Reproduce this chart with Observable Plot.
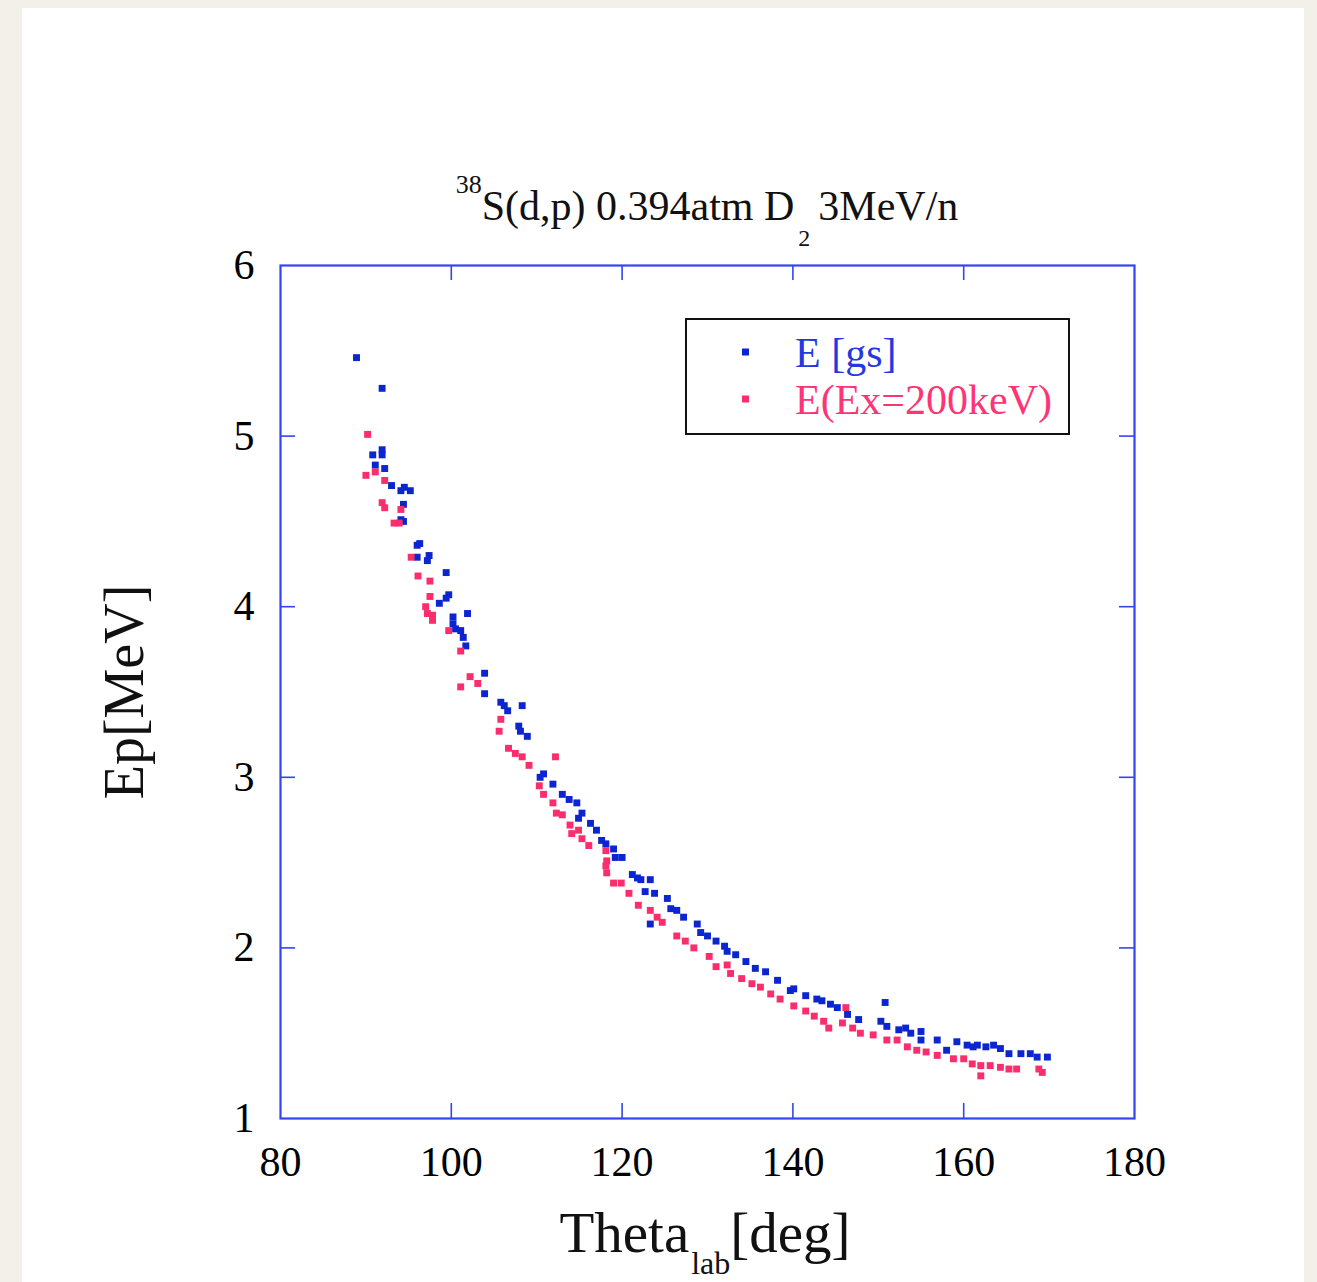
<!DOCTYPE html>
<html>
<head>
<meta charset="utf-8">
<script src="https://cdn.jsdelivr.net/npm/d3@7"></script>
<script src="https://cdn.jsdelivr.net/npm/@observablehq/plot@0.6"></script>
<style>
  html, body { margin: 0; padding: 0; }
  body { width: 1317px; height: 1282px; overflow: hidden; background: #f3f0ea; position: relative; }
  #card { position: absolute; left: 22px; top: 8px; width: 1282px; height: 1274px; background: #ffffff; }
  #overlay { position: absolute; left: 0; top: 0; pointer-events: none; }
</style>
</head>
<body>
<div id="card"></div>
<script>
// ---------------- data ----------------
const titleText = {sup: "38", main: "S(d,p) 0.394atm D", sub: "2", tail: "3MeV/n"};
const xLabel = {main: "Theta", sub: "lab", tail: "[deg]"};
const yLabel = "Ep[MeV]";
const seriesNames = ["E [gs]", "E(Ex=200keV)"];

const xTicks = [80, 100, 120, 140, 160, 180];
const yTicks = [1, 2, 3, 4, 5, 6];
const xInnerTicks = [100, 120, 140, 160];
const yInnerTicks = [2, 3, 4, 5];

// E [gs]
const gsTheta = [88.9, 91.9, 91.9, 91.9, 90.8, 91.1, 92.2, 93.0, 94.1, 94.5, 95.2, 94.4, 94.1, 94.4,
  96.3, 96.0, 96.0, 97.4, 97.2, 99.4, 99.7, 99.4, 98.6, 101.9, 100.2, 100.2, 100.5, 101.1, 101.4, 101.7,
  103.9, 103.9, 105.8, 106.2, 106.6, 108.3, 107.9, 108.1, 108.9, 110.8, 110.4, 111.9, 113.0, 113.8, 114.7,
  115.3, 114.9, 116.3, 117.0, 117.6, 118.1, 119.0, 119.2, 120.0, 121.2, 121.8, 123.3, 122.2, 122.7, 123.8,
  125.3, 125.7, 126.4, 127.2, 123.3, 128.8, 129.2, 130.0, 131.0, 132.0, 132.3, 133.3, 134.5, 135.6, 136.8,
  138.2, 139.7, 140.1, 141.5, 142.8, 143.4, 144.4, 145.2, 146.4, 147.7, 150.8, 150.3, 151.0, 152.4, 153.2,
  153.8, 155.0, 155.0, 156.9, 158.0, 159.2, 160.4, 161.1, 161.6, 162.6, 163.5, 164.3, 165.3, 166.7, 167.8,
  168.6, 169.8];
const gsEp = [5.46, 5.28, 4.92, 4.89, 4.89, 4.83, 4.81, 4.71, 4.68, 4.70, 4.68, 4.60, 4.51, 4.50,
  4.37, 4.36, 4.29, 4.30, 4.27, 4.20, 4.07, 4.05, 4.02, 3.96, 3.94, 3.90, 3.87, 3.86, 3.82, 3.77,
  3.61, 3.49, 3.44, 3.42, 3.39, 3.42, 3.30, 3.27, 3.24, 3.02, 3.00, 2.96, 2.90, 2.87, 2.85,
  2.79, 2.76, 2.73, 2.69, 2.63, 2.61, 2.58, 2.53, 2.53, 2.43, 2.41, 2.40, 2.40, 2.33, 2.32,
  2.29, 2.23, 2.22, 2.18, 2.14, 2.14, 2.09, 2.07, 2.04, 2.01, 1.98, 1.96, 1.92, 1.88, 1.86,
  1.81, 1.75, 1.76, 1.72, 1.70, 1.69, 1.67, 1.65, 1.61, 1.58, 1.68, 1.57, 1.54, 1.52, 1.53,
  1.50, 1.51, 1.46, 1.46, 1.40, 1.45, 1.43, 1.42, 1.43, 1.42, 1.43, 1.41, 1.38, 1.38, 1.38,
  1.36, 1.36];

// E(Ex=200keV)
const exTheta = [90.2, 91.1, 90.0, 92.2, 91.9, 92.2, 94.1, 93.3, 93.9, 95.3, 96.1, 97.5, 97.5, 97.0,
  97.2, 97.8, 97.8, 99.7, 101.1, 102.2, 103.1, 101.1, 105.8, 105.6, 106.7, 107.5, 108.3, 109.1, 112.2,
  110.3, 110.8, 111.9, 112.3, 113.0, 113.9, 114.1, 114.9, 115.3, 116.1, 118.1, 118.2, 118.1, 118.2,
  119.0, 119.9, 120.8, 121.9, 123.3, 124.1, 124.7, 126.4, 127.4, 128.4, 130.2, 131.0, 132.3, 132.7,
  134.0, 135.2, 136.2, 137.4, 138.5, 140.1, 141.5, 142.5, 143.6, 144.2, 146.2, 145.8, 147.0, 147.9,
  149.4, 151.0, 152.2, 153.4, 154.5, 155.6, 156.9, 158.8, 160.0, 161.0, 162.0, 162.0, 163.1, 164.3,
  165.3, 166.2, 168.8, 169.2];
const exEp = [5.01, 4.79, 4.77, 4.74, 4.61, 4.58, 4.57, 4.49, 4.49, 4.29, 4.18, 4.15, 4.06, 4.00,
  3.96, 3.95, 3.92, 3.86, 3.74, 3.59, 3.55, 3.53, 3.34, 3.27, 3.17, 3.14, 3.12, 3.07, 3.12,
  2.95, 2.90, 2.85, 2.79, 2.78, 2.72, 2.67, 2.69, 2.64, 2.60, 2.57, 2.51, 2.48, 2.44,
  2.38, 2.38, 2.32, 2.25, 2.22, 2.18, 2.15, 2.07, 2.04, 2.00, 1.95, 1.89, 1.90, 1.85,
  1.82, 1.79, 1.77, 1.73, 1.70, 1.66, 1.63, 1.60, 1.57, 1.53, 1.65, 1.56, 1.53, 1.50,
  1.49, 1.46, 1.46, 1.42, 1.40, 1.39, 1.37, 1.35, 1.35, 1.32, 1.31, 1.25, 1.31, 1.30,
  1.29, 1.29, 1.29, 1.27];

// ---------------- styles ----------------
const blue = "#0b25d0";
const pink = "#fb2d6c";
const frameColor = "#3345f0";
const legendBlue = "#2438e0";
const legendPink = "#ff3476";
const serif = "'Liberation Serif', 'Times New Roman', Times, serif";

const gs = gsTheta.map((t, i) => ({theta: t, ep: gsEp[i]}));
const ex = exTheta.map((t, i) => ({theta: t, ep: exEp[i]}));

const W = 1282, H = 1274;
const mL = 258, mR = 170, mT = 257, mB = 164;
const plotW = W - mL - mR, plotH = H - mT - mB;
const tickLen = 15;

const chart = Plot.plot({
  width: W, height: H,
  marginLeft: mL, marginRight: mR, marginTop: mT, marginBottom: mB,
  x: {domain: [80, 180]},
  y: {domain: [1, 6]},
  style: {fontFamily: serif, fontSize: "42px", background: "transparent", color: "#000", overflow: "visible"},
  marks: [
    Plot.ruleX(xInnerTicks, {x: d => d, stroke: frameColor, strokeWidth: 1.6, insetBottom: plotH - tickLen}),
    Plot.ruleX(xInnerTicks, {x: d => d, stroke: frameColor, strokeWidth: 1.6, insetTop: plotH - tickLen}),
    Plot.ruleY(yInnerTicks, {y: d => d, stroke: frameColor, strokeWidth: 1.6, insetRight: plotW - tickLen}),
    Plot.ruleY(yInnerTicks, {y: d => d, stroke: frameColor, strokeWidth: 1.6, insetLeft: plotW - tickLen}),
    Plot.frame({stroke: frameColor, strokeWidth: 2.2}),
    Plot.axisX(xTicks, {anchor: "bottom", tickSize: 0, tickPadding: 28, fontSize: 42, label: null, tickFormat: d => String(d)}),
    Plot.axisY(yTicks, {anchor: "left", tickSize: 0, tickPadding: 26, fontSize: 42, label: null, tickFormat: d => String(d)}),
    Plot.dot(gs, {x: "theta", y: "ep", symbol: "square", r: 3.9, fill: blue, stroke: null}),
    Plot.dot(ex, {x: "theta", y: "ep", symbol: "square", r: 3.9, fill: pink, stroke: null})
  ]
});
document.getElementById("card").appendChild(chart);

// ---------------- overlay texts (title, axis labels, legend) ----------------
const ov = d3.select("body").append("svg")
  .attr("id", "overlay").attr("width", 1317).attr("height", 1282)
  .style("font-family", serif);

// title
const t = ov.append("text").attr("x", 707).attr("y", 220).attr("text-anchor", "middle")
  .attr("font-size", 42).attr("fill", "#111");
t.append("tspan").attr("font-size", 26).attr("dy", -27).text(titleText.sup);
t.append("tspan").attr("dy", 27).text(titleText.main);
t.append("tspan").attr("font-size", 24).attr("dy", 26).attr("dx", 4).text(titleText.sub);
t.append("tspan").attr("dy", -26).attr("dx", 8).text(titleText.tail);

// x axis title
const xl = ov.append("text").attr("x", 705).attr("y", 1252).attr("text-anchor", "middle")
  .attr("font-size", 57).attr("fill", "#111");
xl.append("tspan").text(xLabel.main);
xl.append("tspan").attr("font-size", 32).attr("dy", 22).attr("dx", 2).text(xLabel.sub);
xl.append("tspan").attr("dy", -22).text(xLabel.tail);

// y axis title
ov.append("text").attr("transform", "translate(143,692) rotate(-90)").attr("text-anchor", "middle")
  .attr("font-size", 56).attr("fill", "#111").text(yLabel);

// legend
const lg = ov.append("g");
lg.append("rect").attr("x", 686).attr("y", 319).attr("width", 383).attr("height", 115)
  .attr("fill", "#fff").attr("stroke", "#111").attr("stroke-width", 2);
const entries = [
  {name: seriesNames[0], marker: blue, color: legendBlue, y: 352},
  {name: seriesNames[1], marker: pink, color: legendPink, y: 399}
];
entries.forEach(e => {
  lg.append("rect").attr("x", 742).attr("y", e.y - 3.5).attr("width", 7).attr("height", 7).attr("fill", e.marker);
  lg.append("text").attr("x", 795).attr("y", e.y + 15).attr("font-size", 42).attr("fill", e.color).text(e.name);
});
</script>
</body>
</html>
